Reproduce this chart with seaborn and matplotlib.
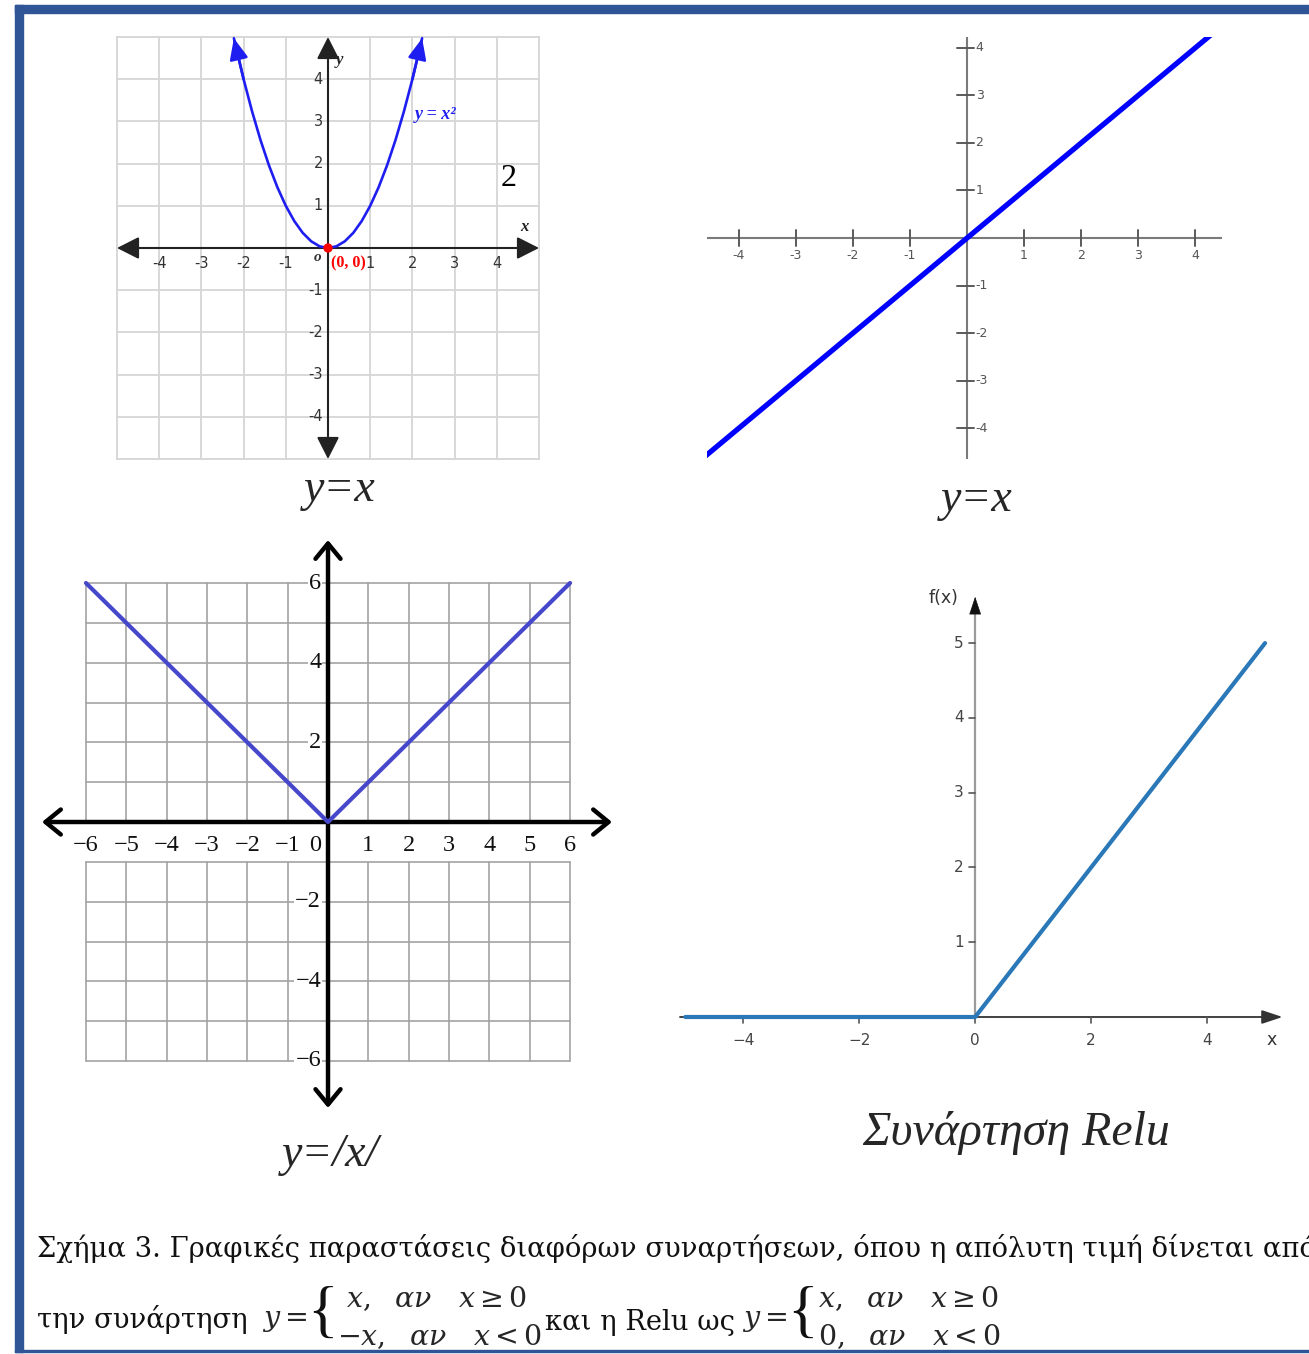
import matplotlib
matplotlib.use("Agg")
import matplotlib.pyplot as plt
import seaborn as sns
from matplotlib.patches import Rectangle

sns.set_theme(style="white")
plt.rcParams["font.family"] = ["DejaVu Sans"]
plt.rcParams["mathtext.fontset"] = "dejavuserif"

W, H = 1309, 1354

# ---------------- data ----------------
parab_x = [-2.23, -2.0, -1.8, -1.6, -1.4, -1.2, -1.0, -0.8, -0.6, -0.4, -0.2, 0.0,
           0.2, 0.4, 0.6, 0.8, 1.0, 1.2, 1.4, 1.6, 1.8, 2.0, 2.23]
parab_y = [4.97, 4.0, 3.24, 2.56, 1.96, 1.44, 1.0, 0.64, 0.36, 0.16, 0.04, 0.0,
           0.04, 0.16, 0.36, 0.64, 1.0, 1.44, 1.96, 2.56, 3.24, 4.0, 4.97]
origin_x = [0]
origin_y = [0]
ident_x = [-4.6, 4.3]
ident_y = [-4.6, 4.3]
abs_x = [-6, 0, 6]
abs_y = [6, 0, 6]
relu_x = [-5, 0, 5]
relu_y = [0, 0, 5]

p1_ticks = [-4, -3, -2, -1, 1, 2, 3, 4]
p2_ticks = [-4, -3, -2, -1, 1, 2, 3, 4]
p3_xticks = [-6, -5, -4, -3, -2, -1, 0, 1, 2, 3, 4, 5, 6]
p3_xlabels = ["−6", "−5", "−4", "−3", "−2", "−1", "0", "1", "2", "3", "4", "5", "6"]
p3_yticks = [6, 4, 2, -2, -4, -6]
p3_ylabels = ["6", "4", "2", "−2", "−4", "−6"]
p4_xticks = [-4, -2, 0, 2, 4]
p4_xlabels = ["−4", "−2", "0", "2", "4"]
p4_yticks = [1, 2, 3, 4, 5]

caption1 = "Σχήμα 3. Γραφικές παραστάσεις διαφόρων συναρτήσεων, όπου η απόλυτη τιμή δίνεται από"

fig = plt.figure(figsize=(W / 100, H / 100), dpi=100)
fig.patch.set_facecolor("white")


def box(x0, y0, x1, y1):
    return [x0 / W, 1 - y1 / H, (x1 - x0) / W, (y1 - y0) / H]


def fx(x):
    return x / W


def fy(y):
    return 1 - y / H


SERIF = "Liberation Serif"

# ---------------- panel 1 : y = x^2 ----------------
ax1 = fig.add_axes(box(117, 37, 539, 459))
ax1.set_xlim(-5, 5)
ax1.set_ylim(-5, 5)
ax1.set_xticks([])
ax1.set_yticks([])
for s in ax1.spines.values():
    s.set_color("#d6d6d6")
    s.set_linewidth(1.3)
for v in range(-4, 5):
    ax1.axvline(v, color="#d6d6d6", lw=1.3, zorder=0)
    ax1.axhline(v, color="#d6d6d6", lw=1.3, zorder=0)
ax1.annotate("", xy=(5, 0), xytext=(-5, 0),
             arrowprops=dict(arrowstyle="<|-|>,head_length=0.75,head_width=0.38",
                             color="#222222", lw=1.5, mutation_scale=18,
                             shrinkA=0, shrinkB=0), zorder=2)
ax1.annotate("", xy=(0, 5), xytext=(0, -5),
             arrowprops=dict(arrowstyle="<|-|>,head_length=0.75,head_width=0.38",
                             color="#222222", lw=1.5, mutation_scale=18,
                             shrinkA=0, shrinkB=0), zorder=2)
sns.lineplot(x=parab_x, y=parab_y, ax=ax1, color="#1e1ef0", linewidth=1.9,
             estimator=None, sort=False, legend=False, zorder=3)
for i0, i1 in [(0, 1), (-1, -2)]:
    ax1.annotate("", xy=(parab_x[i0], parab_y[i0]), xytext=(parab_x[i1], parab_y[i1]),
                 arrowprops=dict(arrowstyle="-|>,head_length=0.8,head_width=0.35",
                                 color="#1e1ef0", lw=1.9, mutation_scale=16,
                                 shrinkA=0, shrinkB=0), zorder=3)
ax1.scatter(origin_x, origin_y, color="red", s=45, zorder=5, edgecolor="none")
for v in p1_ticks:
    ax1.text(v, -0.36, str(v), ha="center", va="center", fontsize=10.5, color="#333333")
    ax1.text(-0.12, v, str(v), ha="right", va="center", fontsize=10.5, color="#333333")
ax1.text(-0.24, -0.22, "o", ha="center", va="center", fontsize=11, family=SERIF,
         style="italic", fontweight="bold", color="#333333")
ax1.text(0.06, -0.37, "(0, 0)", ha="left", va="center", fontsize=11.5, family=SERIF,
         fontweight="bold", color="red")
ax1.text(4.65, 0.5, "x", ha="center", va="center", fontsize=12, family=SERIF,
         style="italic", fontweight="bold", color="#222222")
ax1.text(0.28, 4.46, "y", ha="center", va="center", fontsize=12, family=SERIF,
         style="italic", fontweight="bold", color="#222222")
ax1.text(2.05, 3.16, "y = x²", ha="left", va="center", fontsize=13, family=SERIF,
         style="italic", fontweight="bold", color="#1e1ef0")
ax1.text(4.29, 1.65, "2", ha="center", va="center", fontsize=23, family=SERIF,
         color="black")

# ---------------- panel 2 : y = x ----------------
ax2 = fig.add_axes(box(707, 37, 1222, 459))
ax2.set_xlim(-4.56, 4.47)
ax2.set_ylim(-4.65, 4.23)
ax2.axis("off")
ax2.axhline(0, color="#7a7a7a", lw=1.5, zorder=1)
ax2.axvline(0, color="#7a7a7a", lw=1.5, zorder=1)
for v in p2_ticks:
    ax2.plot([v, v], [-0.17, 0.17], color="#5a5a5a", lw=1.4, zorder=1)
    ax2.plot([-0.17, 0.12], [v, v], color="#5a5a5a", lw=1.4, zorder=1)
    ax2.text(v, -0.37, str(v), ha="center", va="center", fontsize=9, color="#555555")
    ax2.text(0.15, v, str(v), ha="left", va="center", fontsize=9, color="#555555")
sns.lineplot(x=ident_x, y=ident_y, ax=ax2, color="#0000ff", linewidth=3.8,
             estimator=None, sort=False, legend=False, zorder=3)

# ---------------- panel 3 : y = |x| ----------------
ax3 = fig.add_axes(box(42, 540, 612, 1108))
ax3.set_xlim(-7.09, 7.04)
ax3.set_ylim(-7.18, 7.08)
ax3.axis("off")
for v in range(-6, 7):
    ax3.plot([v, v], [0, 6], color="#a3a3a3", lw=1.2, zorder=0)
    ax3.plot([v, v], [-6, -1], color="#a3a3a3", lw=1.2, zorder=0)
for h in range(1, 7):
    ax3.plot([-6, 6], [h, h], color="#a3a3a3", lw=1.2, zorder=0)
    ax3.plot([-6, 6], [-h, -h], color="#a3a3a3", lw=1.2, zorder=0)
ax3.annotate("", xy=(7.04, 0), xytext=(-7.09, 0),
             arrowprops=dict(arrowstyle="<->,head_length=0.55,head_width=0.45",
                             color="black", lw=3.2, mutation_scale=20,
                             shrinkA=0, shrinkB=0), zorder=2)
ax3.annotate("", xy=(0, 7.08), xytext=(0, -7.18),
             arrowprops=dict(arrowstyle="<->,head_length=0.55,head_width=0.45",
                             color="black", lw=3.2, mutation_scale=20,
                             shrinkA=0, shrinkB=0), zorder=2)
sns.lineplot(x=abs_x, y=abs_y, ax=ax3, color="#4747cc", linewidth=3.0,
             estimator=None, sort=False, legend=False, zorder=3)
for v, lab in zip(p3_xticks, p3_xlabels):
    xpos = -0.32 if v == 0 else v
    ax3.text(xpos, -0.58, lab, ha="center", va="center", fontsize=17.5, family=SERIF,
             color="#111111")
for v, lab in zip(p3_yticks, p3_ylabels):
    ax3.text(-0.17, v, lab, ha="right", va="center", fontsize=17.5, family=SERIF,
             color="#111111",
             bbox=dict(boxstyle="square,pad=0.05", fc="white", ec="none"), zorder=1)

# ---------------- panel 4 : ReLU ----------------
ax4 = fig.add_axes(box(680, 590, 1290, 1060))
ax4.set_xlim(-5.09, 5.43)
ax4.set_ylim(-0.575, 5.71)
ax4.axis("off")
ax4.annotate("", xy=(5.3, 0), xytext=(-5.09, 0),
             arrowprops=dict(arrowstyle="-|>,head_length=0.9,head_width=0.3",
                             color="#333333", lw=1.3, mutation_scale=14,
                             shrinkA=0, shrinkB=0), zorder=1)
ax4.plot([0, 0], [0, 5.45], color="#9a9a9a", lw=1.6, zorder=1)
ax4.annotate("", xy=(0, 5.62), xytext=(0, 5.4),
             arrowprops=dict(arrowstyle="-|>,head_length=0.9,head_width=0.3",
                             color="#111111", lw=0.5, mutation_scale=13,
                             shrinkA=0, shrinkB=0), zorder=1)
for v, lab in zip(p4_xticks, p4_xlabels):
    ax4.plot([v, v], [0, -0.08], color="#555555", lw=1.2, zorder=1)
    ax4.text(v, -0.31, lab, ha="center", va="center", fontsize=11, color="#444444")
for v in p4_yticks:
    ax4.plot([-0.1, 0], [v, v], color="#555555", lw=1.2, zorder=1)
    ax4.text(-0.2, v, str(v), ha="right", va="center", fontsize=11, color="#444444")
ax4.text(-0.55, 5.6, "f(x)", ha="center", va="center", fontsize=12.5, color="#333333")
ax4.text(5.12, -0.31, "x", ha="center", va="center", fontsize=12.5, color="#333333")
sns.lineplot(x=relu_x, y=relu_y, ax=ax4, color="#2a78b8", linewidth=3.0,
             estimator=None, sort=False, legend=False, zorder=3)

# ---------------- panel titles ----------------
fig.text(fx(340), fy(490), "y=x", ha="center", va="center", fontsize=33,
         family=SERIF, style="italic")
fig.text(fx(977), fy(500), "y=x", ha="center", va="center", fontsize=33,
         family=SERIF, style="italic")
fig.text(fx(330), fy(1155), "y=/x/", ha="center", va="center", fontsize=33,
         family=SERIF, style="italic")
fig.text(fx(1016), fy(1133), "Συνάρτηση Relu", ha="center", va="center", fontsize=34.5,
         family=SERIF, style="italic")

# ---------------- caption ----------------
CAP = "DejaVu Serif"
CS = 19.7
MS = 20.5
fig.text(fx(37), fy(1248), caption1, ha="left", va="center", fontsize=CS,
         family=CAP, color="#111111")
fig.text(fx(37), fy(1320), "την συνάρτηση", ha="left", va="center", fontsize=CS,
         family=CAP, color="#111111")
fig.text(fx(262), fy(1320), r"$y=$", ha="left", va="center", fontsize=MS)
fig.text(fx(307), fy(1316), "{", ha="left", va="center", fontsize=46, family=SERIF,
         color="#111111")
fig.text(fx(346), fy(1299), r"$x,\ \ \alpha\nu\ \ \ x \geq 0$", ha="left",
         va="center", fontsize=MS)
fig.text(fx(337), fy(1337), r"$-x,\ \ \alpha\nu\ \ \ x < 0$", ha="left",
         va="center", fontsize=MS)
fig.text(fx(545), fy(1322), "και η Relu ως", ha="left", va="center", fontsize=CS,
         family=CAP, color="#111111")
fig.text(fx(742), fy(1320), r"$y=$", ha="left", va="center", fontsize=MS)
fig.text(fx(787), fy(1316), "{", ha="left", va="center", fontsize=46, family=SERIF,
         color="#111111")
fig.text(fx(818), fy(1299), r"$x,\ \ \alpha\nu\ \ \ x \geq 0$", ha="left",
         va="center", fontsize=MS)
fig.text(fx(818), fy(1337), r"$0,\ \ \alpha\nu\ \ \ x < 0$", ha="left",
         va="center", fontsize=MS)

# ---------------- border ----------------
BLUE = "#2f5597"
fig.add_artist(Rectangle((fx(15), fy(13)), (W - 15) / W, 8 / H,
                         transform=fig.transFigure, color=BLUE, zorder=10))
fig.add_artist(Rectangle((fx(15), fy(1352)), 8 / W, (1352 - 5) / H,
                         transform=fig.transFigure, color=BLUE, zorder=10))
fig.add_artist(Rectangle((fx(15), fy(1352)), (W - 15) / W, 2.5 / H,
                         transform=fig.transFigure, color=BLUE, zorder=10))

fig.savefig("out.png", dpi=100, facecolor="white")
